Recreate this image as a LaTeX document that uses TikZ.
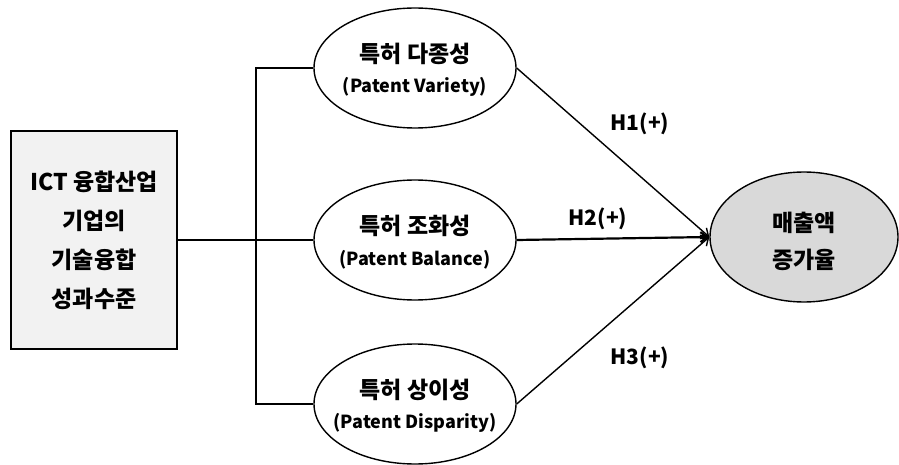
\documentclass[tikz,border=0pt]{standalone}
\usepackage{fontspec}
\setmainfont{Noto Sans CJK KR}
\usetikzlibrary{arrows.meta,shapes.geometric}
\definecolor{boxgray}{HTML}{F2F2F2}
\definecolor{tgtgray}{HTML}{D9D9D9}
\newcommand{\krtitle}{\fontsize{23}{23}\selectfont\bfseries}
\newcommand{\entitle}{\fontsize{18}{18}\selectfont\bfseries}
\begin{document}
\begin{tikzpicture}[x=1pt,y=-1pt,
		factor/.style={ellipse, draw, line width=1.4pt, minimum width=202pt, minimum height=120pt, inner sep=0pt},
		inside/.style={align=center, inner sep=0pt},
		hyp/.style={font=\fontsize{21}{21}\selectfont\bfseries},
		link/.style={line width=1.4pt},
		tip/.style={-{Straight Barb[length=7pt,width=10pt]}}]
		\useasboundingbox (0,0) rectangle (899,465);
		
		% Caja izquierda (variable independiente)
		\node[draw, fill=boxgray, line width=1.6pt, minimum width=166pt, minimum height=218pt, align=center,
			font=\fontsize{23}{39}\selectfont\bfseries] (src) at (94,240)
			{ICT 융합산업\\기업의\\기술융합\\성과수준};
		
		% Elipses del medio
		\node[factor] (var) at (415,68) {};
		\node[inside] (varTxt) at (415,70) {{\krtitle 특허 다종성}\\[12pt]{\entitle (Patent Variety)}};
		\node[factor] (bal) at (415,240) {};
		\node[inside] (balTxt) at (415,242) {{\krtitle 특허 조화성}\\[12pt]{\entitle (Patent Balance)}};
		\node[factor] (dis) at (415,404) {};
		\node[inside] (disTxt) at (415,406) {{\krtitle 특허 상이성}\\[12pt]{\entitle (Patent Disparity)}};
		
		% Elipse derecha (resultado)
		\node[ellipse, draw, fill=tgtgray, line width=1.4pt, minimum width=188pt, minimum height=130pt] (sales) at (804,237) {};
		\node[inside, font=\fontsize{23}{37}\selectfont\bfseries] (salesTxt) at (804,241) {매출액\\증가율};
		
		% Ramas
		\coordinate (split) at (256,239);
		\draw[link, line width=2.2pt] (src.east) -- (bal.west);
		\draw[link] (var.west) -| (split) |- (dis.west);
		
		% Hipotesis
		\draw[link, tip] (var.east) -- (sales.west);
		\draw[link, line width=2.2pt, tip] (bal.east) -- (sales.west);
		\draw[link, tip] (dis.east) -- (sales.west);
		\node[hyp] (h1) at (640,124) {H1(+)};
		\node[hyp] (h2) at (598,219) {H2(+)};
		\node[hyp] (h3) at (640,358) {H3(+)};
	\end{tikzpicture}
\end{document}
